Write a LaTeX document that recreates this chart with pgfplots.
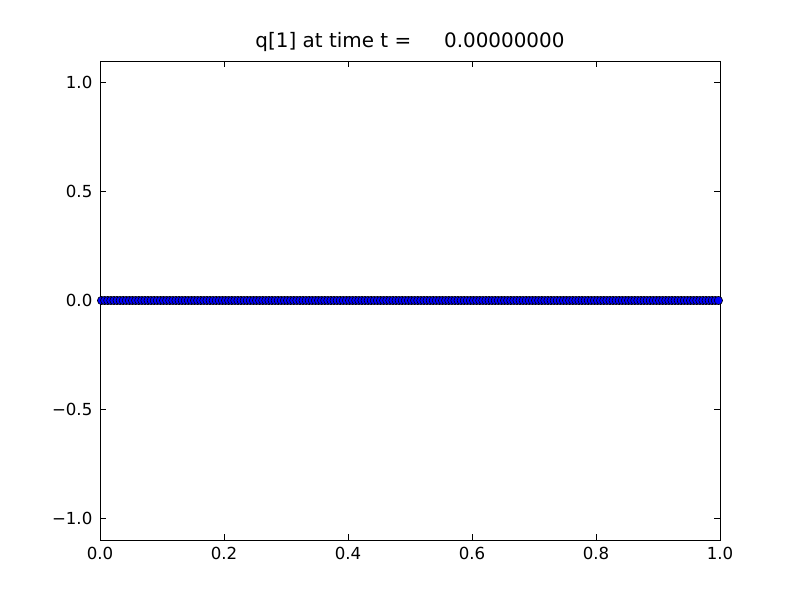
\documentclass[border=0pt]{standalone}
\usepackage{fontspec}
\setmainfont{DejaVu Sans}
\usepackage{pgfplots}
\pgfplotsset{compat=1.18}
\begin{document}
\begin{tikzpicture}
\useasboundingbox (0,0) rectangle (8in,6in);
\begin{axis}[
  at={(1in,0.6in)}, anchor=south west,
  scale only axis, width=6.2in, height=4.79in,
  xmin=0, xmax=1, ymin=-1.1, ymax=1.1,
  xtick={0,0.2,0.4,0.6,0.8,1.0},
  xticklabels={0.0,0.2,0.4,0.6,0.8,1.0},
  ytick={-1,-0.5,0,0.5,1},
  yticklabels={−1.0,−0.5,0.0,0.5,1.0},
  tick align=inside, major tick length=4pt,
  tick style={black, line width=0.6pt},
  axis line style={line width=0.7pt},
  ticklabel style={font=\fontsize{12}{14}\selectfont},
  xticklabel style={yshift=-2pt},
  yticklabel style={xshift=-2pt},
  title={q[1] at time t =\hspace{1.65em}0.00000000},
  title style={font=\fontsize{14.4}{17}\selectfont, yshift=-3pt},
  clip=false,
]
\addplot[blue, line width=0.7pt, mark=*, mark size=3pt, mark options={fill=blue, draw=black, line width=0.45pt}] table {
x y
0.0025 0
0.0075 0
0.0125 0
0.0175 0
0.0225 0
0.0275 0
0.0325 0
0.0375 0
0.0425 0
0.0475 0
0.0525 0
0.0575 0
0.0625 0
0.0675 0
0.0725 0
0.0775 0
0.0825 0
0.0875 0
0.0925 0
0.0975 0
0.1025 0
0.1075 0
0.1125 0
0.1175 0
0.1225 0
0.1275 0
0.1325 0
0.1375 0
0.1425 0
0.1475 0
0.1525 0
0.1575 0
0.1625 0
0.1675 0
0.1725 0
0.1775 0
0.1825 0
0.1875 0
0.1925 0
0.1975 0
0.2025 0
0.2075 0
0.2125 0
0.2175 0
0.2225 0
0.2275 0
0.2325 0
0.2375 0
0.2425 0
0.2475 0
0.2525 0
0.2575 0
0.2625 0
0.2675 0
0.2725 0
0.2775 0
0.2825 0
0.2875 0
0.2925 0
0.2975 0
0.3025 0
0.3075 0
0.3125 0
0.3175 0
0.3225 0
0.3275 0
0.3325 0
0.3375 0
0.3425 0
0.3475 0
0.3525 0
0.3575 0
0.3625 0
0.3675 0
0.3725 0
0.3775 0
0.3825 0
0.3875 0
0.3925 0
0.3975 0
0.4025 0
0.4075 0
0.4125 0
0.4175 0
0.4225 0
0.4275 0
0.4325 0
0.4375 0
0.4425 0
0.4475 0
0.4525 0
0.4575 0
0.4625 0
0.4675 0
0.4725 0
0.4775 0
0.4825 0
0.4875 0
0.4925 0
0.4975 0
0.5025 0
0.5075 0
0.5125 0
0.5175 0
0.5225 0
0.5275 0
0.5325 0
0.5375 0
0.5425 0
0.5475 0
0.5525 0
0.5575 0
0.5625 0
0.5675 0
0.5725 0
0.5775 0
0.5825 0
0.5875 0
0.5925 0
0.5975 0
0.6025 0
0.6075 0
0.6125 0
0.6175 0
0.6225 0
0.6275 0
0.6325 0
0.6375 0
0.6425 0
0.6475 0
0.6525 0
0.6575 0
0.6625 0
0.6675 0
0.6725 0
0.6775 0
0.6825 0
0.6875 0
0.6925 0
0.6975 0
0.7025 0
0.7075 0
0.7125 0
0.7175 0
0.7225 0
0.7275 0
0.7325 0
0.7375 0
0.7425 0
0.7475 0
0.7525 0
0.7575 0
0.7625 0
0.7675 0
0.7725 0
0.7775 0
0.7825 0
0.7875 0
0.7925 0
0.7975 0
0.8025 0
0.8075 0
0.8125 0
0.8175 0
0.8225 0
0.8275 0
0.8325 0
0.8375 0
0.8425 0
0.8475 0
0.8525 0
0.8575 0
0.8625 0
0.8675 0
0.8725 0
0.8775 0
0.8825 0
0.8875 0
0.8925 0
0.8975 0
0.9025 0
0.9075 0
0.9125 0
0.9175 0
0.9225 0
0.9275 0
0.9325 0
0.9375 0
0.9425 0
0.9475 0
0.9525 0
0.9575 0
0.9625 0
0.9675 0
0.9725 0
0.9775 0
0.9825 0
0.9875 0
0.9925 0
0.9975 0
};
\end{axis}
\end{tikzpicture}
\end{document}
